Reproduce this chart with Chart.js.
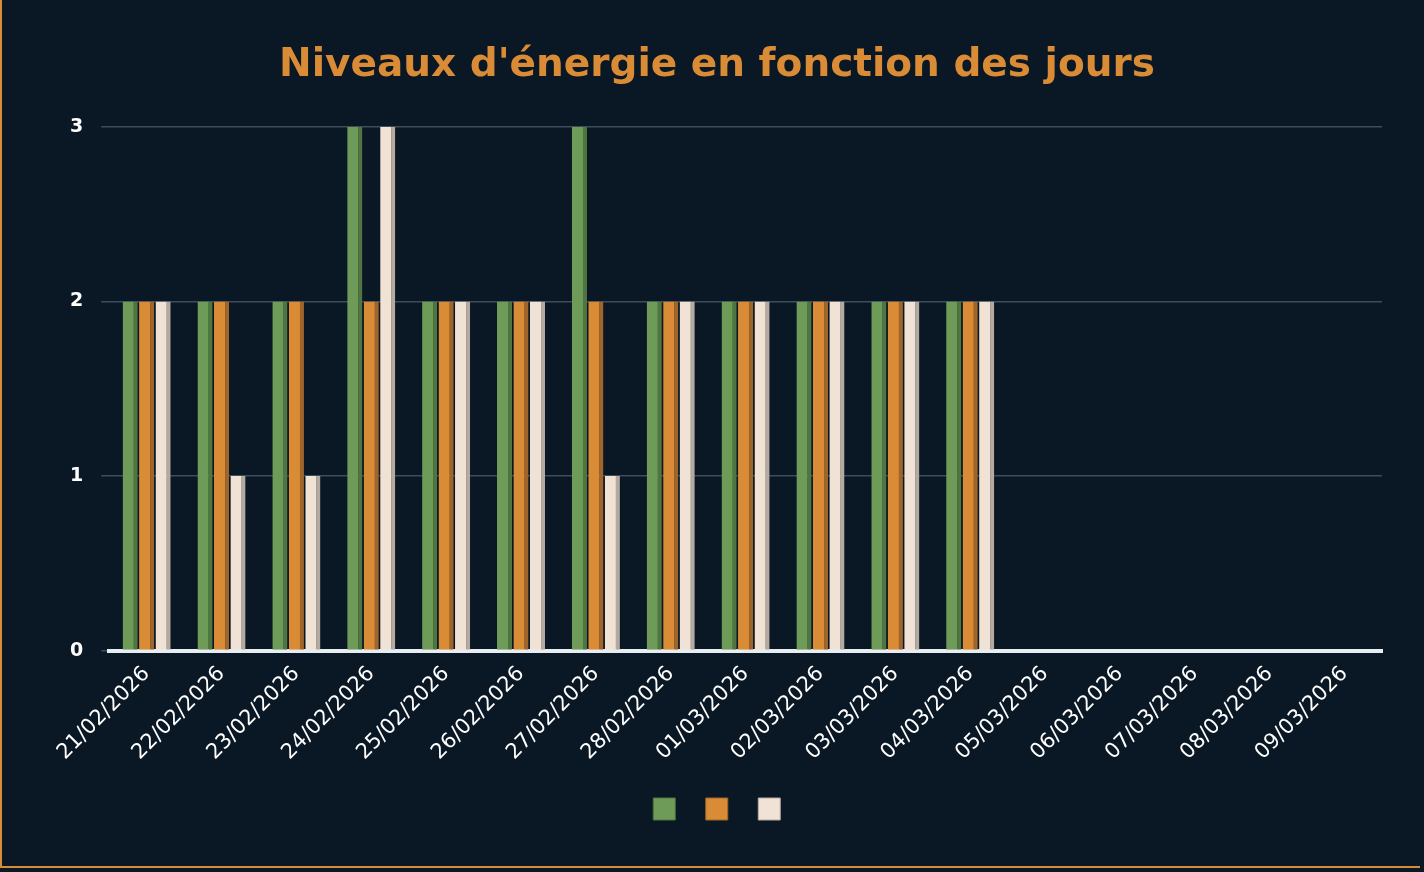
<!DOCTYPE html>
<html>
<head>
<meta charset="utf-8">
<script src="https://cdn.jsdelivr.net/npm/chart.js@4"></script>
<style>
  html, body { margin: 0; padding: 0; background: #0a1724; }
  #wrap { width: 1420px; height: 868px; border: 2px solid #d98c35; border-top: none; border-right: none; box-sizing: border-box; }
</style>
</head>
<body>
<div id="wrap"><canvas id="chart" width="1420" height="868"></canvas></div>
<script>
const labels = ["21/02/2026","22/02/2026","23/02/2026","24/02/2026","25/02/2026","26/02/2026","27/02/2026","28/02/2026","01/03/2026","02/03/2026","03/03/2026","04/03/2026","05/03/2026","06/03/2026","07/03/2026","08/03/2026","09/03/2026"];
const greenValues = [2,2,2,3,2,2,3,2,2,2,2,2,null,null,null,null,null];
const orangeValues = [2,2,2,2,2,2,2,2,2,2,2,2,null,null,null,null,null];
const creamValues = [2,1,1,3,2,2,1,2,2,2,2,2,null,null,null,null,null];
const yTicks = [0,1,2,3];

function ds(data, fill, side) {
  return {
    label: "",
    data: data,
    backgroundColor: fill,
    borderColor: side,
    borderWidth: { top: 0, right: 4, left: 0, bottom: 0 },
    borderSkipped: false,
    categoryPercentage: 0.66,
    barPercentage: 0.92
  };
}

new Chart(document.getElementById("chart"), {
  type: "bar",
  data: {
    labels: labels,
    datasets: [
      ds(greenValues, "#6e9c58", "#4f7540"),
      ds(orangeValues, "#d98c35", "#a0652a"),
      ds(creamValues, "#f1e2d6", "#b5aaa0")
    ]
  },
  options: {
    responsive: false,
    animation: false,
    layout: { padding: { left: 50, right: 40, top: 10, bottom: 38 } },
    plugins: {
      title: {
        display: true,
        text: "Niveaux d'énergie en fonction des jours",
        color: "#d98c35",
        font: { family: "DejaVu Sans", size: 39, weight: "bold" },
        padding: { top: 32, bottom: 38 }
      },
      legend: {
        position: "bottom",
        labels: { boxWidth: 22, boxHeight: 22, padding: 30, font: { size: 1 } }
      },
      tooltip: { enabled: false }
    },
    scales: {
      x: {
        grid: { display: false },
        border: { color: "#e8edf2", width: 4 },
        ticks: { color: "#ffffff", maxRotation: 45, minRotation: 45, font: { family: "DejaVu Sans", size: 21 } }
      },
      y: {
        min: 0, max: 3,
        afterBuildTicks: axis => { axis.ticks = yTicks.map(v => ({ value: v })); },
        grid: { color: "#3c4d5c", lineWidth: 1.5 },
        border: { display: false },
        ticks: { color: "#ffffff", padding: 18, font: { family: "DejaVu Sans", size: 19, weight: "bold" } }
      }
    }
  }
});
</script>
</body>
</html>
